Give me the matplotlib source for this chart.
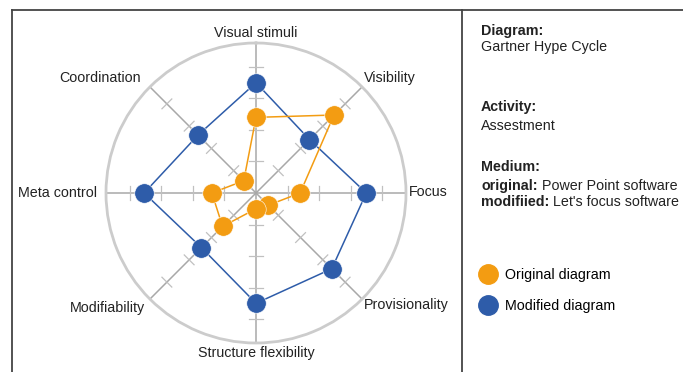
import numpy as np
import matplotlib
matplotlib.use("Agg")
import matplotlib.pyplot as plt
from matplotlib.lines import Line2D

plt.rcParams['font.family'] = ['Liberation Sans', 'DejaVu Sans']

categories = ["Visual stimuli", "Visibility", "Focus", "Provisionality",
              "Structure flexibility", "Modifiability", "Meta control", "Coordination"]
original = [2.4, 3.5, 1.4, 0.55, 0.5, 1.5, 1.4, 0.55]
modified = [3.5, 2.4, 3.5, 3.4, 3.5, 2.45, 3.55, 2.6]
series_names = ["Original diagram", "Modified diagram"]
tick_values = [1, 2, 3, 4]

ORANGE = "#F39C12"
BLUE = "#2E5CA9"
RMAX = 4.76
W, H = 683, 372

fig = plt.figure(figsize=(W / 100, H / 100), dpi=100)

# background layer in pixel coordinates (borders + info text)
bg = fig.add_axes([0, 0, 1, 1])
bg.set_xlim(0, W)
bg.set_ylim(H, 0)
bg.axis("off")
border = "#444444"
bg.plot([12, W], [10, 10], color=border, lw=1.3)
bg.plot([12, 12], [10, H], color=border, lw=1.3)
bg.plot([462, 462], [10, H], color=border, lw=1.3)

# radar chart
ax = fig.add_axes([256 / W - 150 / W, 1 - 193 / H - 150 / H, 300 / W, 300 / H],
                  projection="polar")
ax.set_theta_zero_location("N")
ax.set_theta_direction(-1)
ax.set_ylim(0, RMAX)
ax.set_xticks([])
ax.set_yticks([])
ax.grid(False)
ax.patch.set_alpha(0)
ax.spines["polar"].set_color("#cccccc")
ax.spines["polar"].set_linewidth(2)

angles = np.linspace(0, 2 * np.pi, len(categories), endpoint=False)

for a in angles:
    ax.plot([a, a], [0, RMAX], color="#a8a8a8", lw=1.1, zorder=1)
    for r in tick_values:
        h = 0.22
        rr = np.hypot(r, h)
        da = np.arctan(h / r)
        ax.plot([a - da, a + da], [rr, rr], color="#c0c0c0", lw=0.9, zorder=1)

closed = np.append(angles, angles[0])
for vals, col in [(modified, BLUE), (original, ORANGE)]:
    v = np.append(vals, vals[0])
    ax.plot(closed, v, color=col, lw=1.1, zorder=3)
    ax.plot(angles, vals, "o", color=col, ms=14, mec="white", mew=0.4, zorder=4)

label_offsets = [(0, 7.2, "center"), (1.4, 6.5, "left"), (2.2, 0.7, "left"),
                 (1.4, -4.3, "left"), (0, -7.2, "center"), (-3.6, -6.5, "right"),
                 (-6.5, 0, "right"), (-6.5, 6.5, "right")]
for a, lab, (dx, dy, ha) in zip(angles, categories, label_offsets):
    ax.annotate(lab, xy=(a, RMAX), xytext=(dx, dy), textcoords="offset points",
                ha=ha, va="center", fontsize=10.3, color="#222222",
                annotation_clip=False)

# info panel
fs = 10.3
tx = 481
bg.text(tx, 31, "Diagram:", fontsize=fs, weight="bold", va="center", color="#222222")
bg.text(tx, 47, "Gartner Hype Cycle", fontsize=fs, va="center", color="#222222")
bg.text(tx, 107, "Activity:", fontsize=fs, weight="bold", va="center", color="#222222")
bg.text(tx, 126, "Assestment", fontsize=fs, va="center", color="#222222")
bg.text(tx, 167, "Medium:", fontsize=fs, weight="bold", va="center", color="#222222")
b1 = bg.text(tx, 190, "original:", fontsize=fs, weight="bold", va="baseline", color="#222222")
b2 = bg.text(tx, 206, "modifiied:", fontsize=fs, weight="bold", va="baseline", color="#222222")
fig.canvas.draw()
inv = bg.transData.inverted()
for b, rest in [(b1, " Power Point software"), (b2, " Let's focus software")]:
    x1 = inv.transform(b.get_window_extent().get_points())[:, 0].max()
    bg.text(x1, b.get_position()[1], rest, fontsize=fs, va="baseline", color="#222222")

handles = [Line2D([], [], ls="none", marker="o", ms=14, color=ORANGE),
           Line2D([], [], ls="none", marker="o", ms=14, color=BLUE)]
fig.legend(handles, series_names, loc="upper left",
           bbox_to_anchor=(472.4 / W, 1 - 261 / H), bbox_transform=fig.transFigure,
           frameon=False, fontsize=fs, borderpad=0, handlelength=1.2,
           handletextpad=0.59, labelspacing=1.2)

fig.savefig("out.png", dpi=100)
